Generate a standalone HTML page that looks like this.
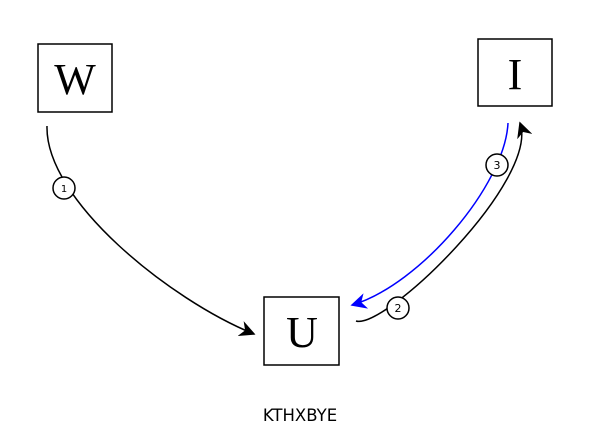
<!DOCTYPE html>
<html><head><meta charset="utf-8"><style>
html,body{margin:0;padding:0;background:#fff;}
svg{display:block;}
</style></head><body>
<svg width="599" height="440" viewBox="0 0 599 440">
<defs>
<marker id="ab" viewBox="0 0 10 10" refX="9" refY="5" markerWidth="16" markerHeight="16" markerUnits="userSpaceOnUse" orient="auto"><path d="M0,0 L10,5 L0,10 L3,5 Z" fill="#000"/></marker>
<marker id="ablue" viewBox="0 0 10 10" refX="9" refY="5" markerWidth="16" markerHeight="16" markerUnits="userSpaceOnUse" orient="auto"><path d="M0,0 L10,5 L0,10 L3,5 Z" fill="#00f"/></marker>
</defs>
<g>
<rect x="38" y="44" width="74" height="68" fill="#fff" stroke="#000" stroke-width="1.5"/>
<text x="75" y="94" text-anchor="middle" font-family="Liberation Serif, serif" font-size="44">W</text>
</g>
<g>
<rect x="478" y="39" width="74" height="67" fill="#fff" stroke="#000" stroke-width="1.5"/>
<text x="515" y="89" text-anchor="middle" font-family="Liberation Serif, serif" font-size="44">I</text>
</g>
<g>
<rect x="264" y="297" width="75" height="68" fill="#fff" stroke="#000" stroke-width="1.5"/>
<text x="302" y="347" text-anchor="middle" font-family="Liberation Serif, serif" font-size="44">U</text>
</g>
<path d="M47,126 C45,200 170,300 254,334" fill="none" stroke="#000" stroke-width="1.5" marker-end="url(#ab)"/>
<path d="M356,321 C385,330 540,180 520,123" fill="none" stroke="#000" stroke-width="1.5" marker-end="url(#ab)"/>
<path d="M508,123 C505,185 420,285 352,305" fill="none" stroke="#00f" stroke-width="1.5" marker-end="url(#ablue)"/>
<g>
<circle cx="64" cy="188" r="11" fill="#fff" stroke="#000" stroke-width="1.5"/>
<text x="64" y="192" text-anchor="middle" font-family="DejaVu Sans, sans-serif" font-size="10">1</text>
</g>
<g>
<circle cx="398" cy="308" r="11" fill="#fff" stroke="#000" stroke-width="1.5"/>
<text x="398" y="312" text-anchor="middle" font-family="DejaVu Sans, sans-serif" font-size="11">2</text>
</g>
<g>
<circle cx="497" cy="165" r="11" fill="#fff" stroke="#000" stroke-width="1.5"/>
<text x="497" y="169" text-anchor="middle" font-family="DejaVu Sans, sans-serif" font-size="11">3</text>
</g>
<text x="300" y="421" text-anchor="middle" font-family="DejaVu Sans, sans-serif" font-size="16.5">KTHXBYE</text>
</svg>
</body></html>
